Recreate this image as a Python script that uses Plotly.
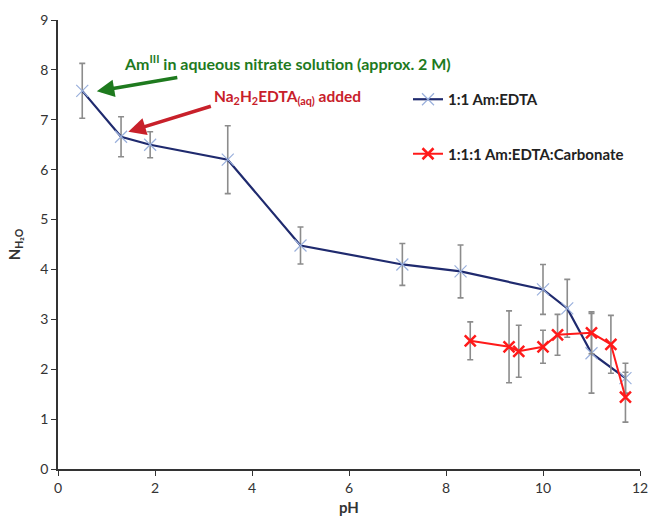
import plotly.graph_objects as go

# Data
ph_edta = [0.5, 1.3, 1.9, 3.5, 5.0, 7.1, 8.3, 10.0, 10.5, 11.0, 11.7]
n_edta = [7.58, 6.66, 6.5, 6.2, 4.48, 4.1, 3.96, 3.6, 3.22, 2.32, 1.82]
err_edta = [0.55, 0.4, 0.26, 0.68, 0.37, 0.42, 0.53, 0.5, 0.58, 0.8, 0.3]

ph_carb = [8.5, 9.3, 9.5, 10.0, 10.3, 11.0, 11.4, 11.7]
n_carb = [2.57, 2.45, 2.36, 2.45, 2.69, 2.73, 2.5, 1.44]
err_carb = [0.38, 0.72, 0.52, 0.33, 0.41, 0.42, 0.58, 0.5]

FONT = "Lato"
W, H = 650, 523
L, R, T, B = 58, 10, 20, 54
PW, PH = W - L - R, H - T - B


def px(xpix):
    return (xpix - L) / PW


def py(ypix):
    return 1 - (ypix - T) / PH


fig = go.Figure()
fig.add_trace(go.Scatter(
    x=ph_edta, y=n_edta, mode="lines+markers", name="<b>1:1 Am:EDTA</b>",
    line=dict(color="#1F2A6E", width=2.2),
    marker=dict(symbol="x-thin-open", size=12, color="#9AB0DC", line=dict(color="#9AB0DC", width=1.2)),
    error_y=dict(type="data", array=err_edta, color="#8C8C8C", thickness=1.6, width=3),
    legendgroup="a",
))
fig.add_trace(go.Scatter(
    x=ph_carb, y=n_carb, mode="lines+markers", name="<b>1:1:1 Am:EDTA:Carbonate</b>",
    line=dict(color="#FF1A1A", width=2),
    marker=dict(symbol="x-thin-open", size=11, color="#FF1A1A", line=dict(color="#FF1A1A", width=2.5)),
    error_y=dict(type="data", array=err_carb, color="#8C8C8C", thickness=1.6, width=3),
    legendgroup="b",
))

fig.update_layout(
    width=W, height=H,
    margin=dict(l=L, r=R, t=T, b=B, autoexpand=False),
    paper_bgcolor="white", plot_bgcolor="white",
    font=dict(family=FONT, size=14, color="#222"),
    legend=dict(x=px(408), y=py(83), xanchor="left", yanchor="top", itemwidth=30,
                tracegroupgap=32, traceorder="grouped",
                font=dict(family=FONT, size=15, color="#222"), bgcolor="rgba(0,0,0,0)"),
    xaxis=dict(range=[0, 12], dtick=2, showgrid=False, zeroline=False, automargin=False,
               showline=True, linecolor="#333", linewidth=1.5,
               ticks="outside", ticklen=5, tickcolor="#333",
               tickfont=dict(family=FONT, size=14, color="#333"),
               title=dict(text="<b>pH</b>", font=dict(family=FONT, size=15, color="#333"), standoff=8)),
    yaxis=dict(range=[0, 9], dtick=1, showgrid=False, zeroline=False, automargin=False,
               showline=True, linecolor="#333", linewidth=1.5,
               ticks="outside", ticklen=5, tickcolor="#333",
               tickfont=dict(family=FONT, size=14, color="#333"),
               title=dict(text="<b>N<sub>H₂O</sub></b>", font=dict(family=FONT, size=15, color="#333"), standoff=16)),
)

# Annotation texts
fig.add_annotation(xref="paper", yref="paper", x=px(122), y=py(62),
                   xanchor="left", yanchor="middle", showarrow=False,
                   text="<b>Am<sup>III</sup> in aqueous nitrate solution (approx. 2 M)</b>",
                   font=dict(family=FONT, size=16, color="#1E7A1E"))
fig.add_annotation(xref="paper", yref="paper", x=px(212), y=py(97),
                   xanchor="left", yanchor="middle", showarrow=False,
                   text="<b>Na<sub>2</sub>H<sub>2</sub>EDTA<sub>(aq)</sub> added</b>",
                   font=dict(family=FONT, size=15.5, color="#C8202A"))
# Arrows
fig.add_annotation(xref="x", yref="y", x=0.8, y=7.57, ax=82, ay=-14, text="",
                   showarrow=True, arrowhead=2, arrowsize=1, arrowwidth=3.5, arrowcolor="#1E7A1E")
fig.add_annotation(xref="x", yref="y", x=1.45, y=6.76, ax=84, ay=-26, text="",
                   showarrow=True, arrowhead=2, arrowsize=1, arrowwidth=3.5, arrowcolor="#C8202A")

fig.write_html("out.html", config={"displayModeBar": False},
               post_script="document.body.style.margin='0px';")
